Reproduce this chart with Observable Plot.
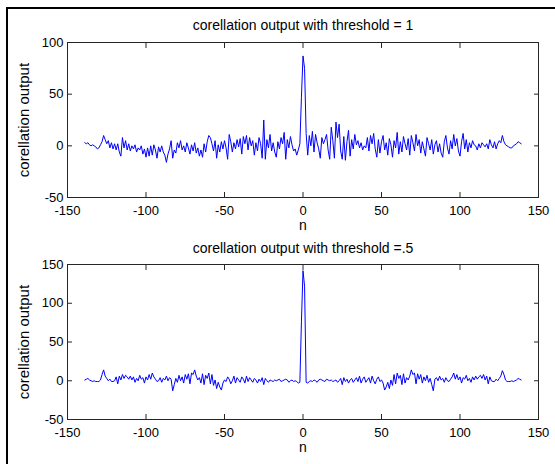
<!DOCTYPE html>
<html><head><meta charset="utf-8">
<script src="https://cdn.jsdelivr.net/npm/d3@7"></script>
<script src="https://cdn.jsdelivr.net/npm/@observablehq/plot@0.6"></script>
<style>
html,body{margin:0;padding:0;background:#fff;}
#fig{position:relative;width:555px;height:464px;overflow:hidden;font-family:"Liberation Sans",Arial,sans-serif;}
#border{position:absolute;left:6px;top:7px;right:-10px;bottom:-10px;border-left:2px solid #000;border-top:2px solid #000;}
.panel{position:absolute;left:0;}
</style></head><body><div id="fig"><div id="border"></div></div>
<script>
// lag axis: n = -139 ... 139
const lagStart = -139;
const titles = ["corellation output with threshold = 1", "corellation output with threshold =.5"];
const yLabel = "corellation output";
const xLabel = "n";
const xTicks = [-150, -100, -50, 0, 50, 100, 150];
const yTicksTop = [-50, 0, 50, 100];
const yTicksBottom = [-50, 0, 50, 100, 150];

// threshold = 1 (n = -139 .. 139)
const corrThreshold1 = [
  3, 2, 3, 1, 0, 1, 0, -1, -3, -2,
  1, 4, 10, 6, 2, 5, -2, 3, -3, 2,
  -4, 2, -6, -10, 8, -2, 5, -4, 2, -5,
  0, -3, 1, -6, -2, -4, 0, -8, -3, -11,
  -2, -10, 0, -9, 1, -4, -12, -1, -6, 0,
  -6, -9, -16, -8, -3, 5, -12, -4, -7, 3,
  -2, 5, -4, 0, -6, 3, -2, -8, 1, -5,
  3, -7, -2, -10, -4, -11, 2, -6, 4, 10,
  8, 2, -5, 5, -12, 1, -6, 4, -3, 5,
  -2, -13, 11, 4, -6, 3, -3, 6, -1, 7,
  -8, 9, 2, 10, -4, 8, 0, 5, -9, 3,
  -5, 8, 2, -12, 25, -13, 6, -2, 11, -5,
  3, -6, -11, 4, -3, 8, 2, 13, -13, 6,
  -2, 9, 1, -5, -3, -9, -4, 2, 47,
  87,
  75, 12, -9, 10, 0, 14, -6, 11, 3, -3,
  -12, 8, 2, 6, 11, -4, -13, 18, 5, -12,
  23, 8, 21, -5, -13, 9, -14, 4, 15, -10,
  6, -3, 11, 1, 5, -2, 3, -4, 0, -2,
  8, -5, 10, 2, 12, -3, -11, 6, -7, 4,
  10, -4, 3, -9, 7, 1, -11, 5, -2, 13,
  -8, 4, -6, 9, 2, -4, 7, -9, 10, 3,
  -5, 11, 0, 6, -7, 4, -3, -10, 8, 2,
  -4, 6, -8, 1, 5, -6, 2, -7, -11, 4,
  10, -2, -8, 5, -3, 11, 0, 7, -5, -10,
  4, 12, -3, 6, -6, 3, -2, 5, 1, 0,
  -4, 2, -2, 3, 1, -1, 2, -3, 6, 1,
  -2, 4, -3, 2, 5, 3, 10, 4, 1, 0,
  -1, -2, -2, 0, 1, 2, 4, 3, 2
];

// threshold = .5 (n = -139 .. 139)
const corrThreshold05 = [
  1, 2, 3, 1, 0, -1, 0, -1, -1, -1,
  1, 8, 14, 6, 3, 0, 2, -1, -1, 0,
  5, -4, 6, 1, 8, 3, 7, 5, 2, 6,
  1, 5, -2, 3, 0, 7, 2, 4, -3, 5,
  1, 8, 2, 10, 5, 2, -1, 0, 4, -2,
  3, 1, 6, 0, 4, 2, -13, -5, 3, -2,
  7, 0, 5, -3, 8, 2, 9, -4, 10, 8,
  14, 6, 1, 4, -3, 9, -5, 7, 3, 10,
  -4, 8, -6, 1, -10, -2, -8, -12, -3, 1,
  -1, 5, 2, -4, 0, 6, -3, 4, 1, -2,
  5, 2, -3, 6, -1, 4, 1, -2, 3, 1,
  -3, 2, -1, 4, -5, 3, 0, -2, 1, 0,
  -1, 1, 0, 1, 2, -1, 0, 1, 2, 1,
  -2, 0, 1, -1, 0, -1, -3, -2, 76,
  142,
  122, -2, -3, -1, 0, -1, 1, 0, -2, 1,
  2, 1, 0, -1, 2, 1, 0, 1, -1, 0,
  1, -2, 0, 3, -5, 4, -1, 2, -3, 1,
  3, -2, 1, 4, -1, 6, -3, 2, 5, -2,
  1, 4, -3, 6, 0, -4, 2, 5, -1, 1,
  -3, -12, -8, -2, -10, 1, -6, 8, -4, 10,
  3, 7, -5, 9, -3, 4, 1, 6, 14, 8,
  10, -4, 9, 2, 8, -3, 5, 0, 7, -2,
  3, -5, -13, 2, 4, 0, 6, 1, 3, -2,
  4, 0, -1, 2, 5, 10, 2, 8, 1, 5,
  -3, 4, 2, 7, 0, 3, -2, 5, 1, 6,
  2, 5, 7, 3, 8, 1, 6, -4, 5, 0,
  -1, -1, 2, 0, 3, 6, 13, 8, 1, -1,
  -1, -1, 0, -1, 0, 1, 3, 2, 1
];

const fmt = d => String(d);
const blank = () => "";
const FONT = "'Liberation Sans', Arial, sans-serif";

function panel(values, yTicks, title, titleDy, top) {
  const data = values.map((v, i) => ({n: lagStart + i, v}));
  const chart = Plot.plot({
    width: 555, height: 232,
    marginLeft: 67, marginRight: 17, marginTop: 42, marginBottom: 35,
    style: {background: "transparent", fontFamily: FONT, fontSize: "13px", color: "#000", overflow: "visible"},
    x: {domain: [xTicks[0], xTicks[xTicks.length - 1]]},
    y: {domain: [yTicks[0], yTicks[yTicks.length - 1]]},
    marks: [
      Plot.line(data, {x: "n", y: "v", stroke: "#0000ff", strokeWidth: 1}),
      Plot.frame({stroke: "#262626"}),
      Plot.axisX({anchor: "bottom", ticks: xTicks, tickSize: 0, tickPadding: 8, tickFormat: fmt, label: null, fontSize: 13}),
      Plot.axisY({anchor: "left", ticks: yTicks, tickSize: 0, tickPadding: 4, tickFormat: fmt, label: null, fontSize: 13}),
      Plot.axisX({anchor: "bottom", ticks: xTicks, tickSize: 5, dy: -5, tickFormat: blank, label: null, stroke: "#262626"}),
      Plot.axisX({anchor: "top", ticks: xTicks, tickSize: 5, dy: 5, tickFormat: blank, label: null, stroke: "#262626"}),
      Plot.axisY({anchor: "left", ticks: yTicks, tickSize: 5, dx: 5, tickFormat: blank, label: null, stroke: "#262626"}),
      Plot.axisY({anchor: "right", ticks: yTicks, tickSize: 5, dx: -5, tickFormat: blank, label: null, stroke: "#262626"}),
      Plot.text([title], {text: d => d, frameAnchor: "top", dy: titleDy, lineAnchor: "middle", textAnchor: "middle", fontSize: 14, fill: "#000"}),
      Plot.text([xLabel], {text: d => d, frameAnchor: "bottom", dy: 28, lineAnchor: "middle", textAnchor: "middle", fontSize: 14, fill: "#000"}),
      Plot.text([yLabel], {text: d => d, frameAnchor: "left", dx: -43, rotate: -90, lineAnchor: "middle", textAnchor: "middle", fontSize: 15, fill: "#000"})
    ]
  });
  chart.classList.add("panel");
  chart.style.top = top + "px";
  chart.style.position = "absolute";
  chart.style.left = "0px";
  document.getElementById("fig").appendChild(chart);
}

panel(corrThreshold1, yTicksTop, titles[0], -17, 0);
panel(corrThreshold05, yTicksBottom, titles[1], -16, 222);
</script></body></html>
